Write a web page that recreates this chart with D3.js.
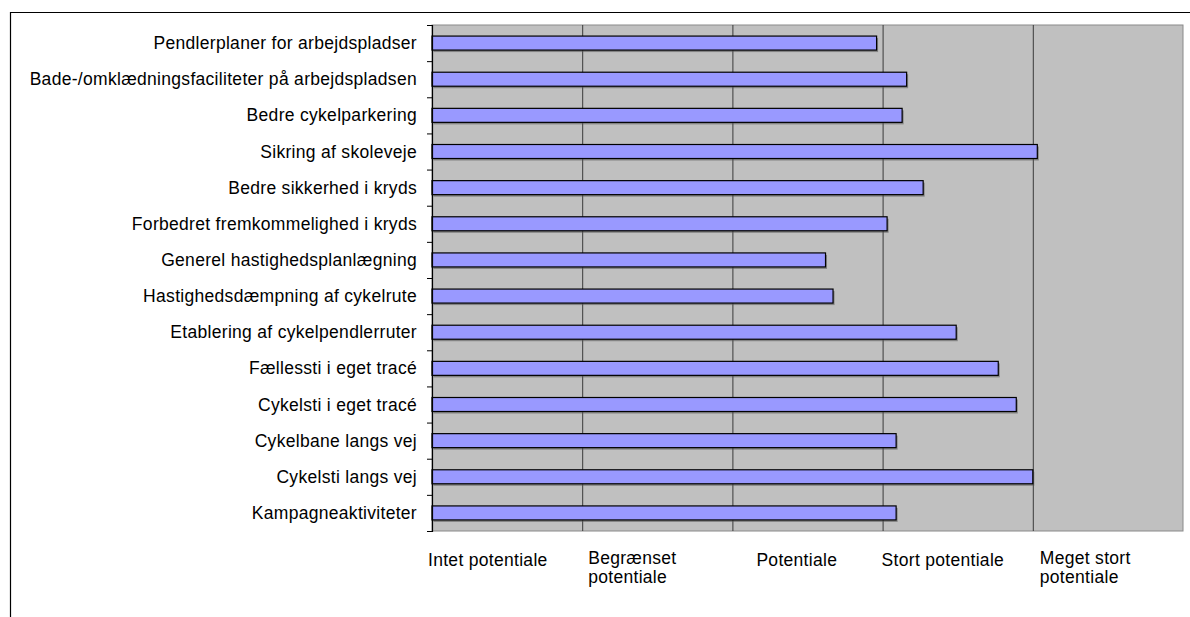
<!DOCTYPE html>
<html>
<head>
<meta charset="utf-8">
<script src="https://cdn.jsdelivr.net/npm/d3@7/dist/d3.min.js"></script>
<style>
  body { margin: 0; background: #fff; }
  svg text { font-family: "Liberation Sans", Arial, Helvetica, sans-serif; fill: #000; letter-spacing: 0.3px; }
</style>
</head>
<body>
<svg id="chart" width="1190" height="617"></svg>
<script>
// Measures, listed top to bottom
const categories = [
  "Pendlerplaner for arbejdspladser",
  "Bade-/omklædningsfaciliteter på arbejdspladsen",
  "Bedre cykelparkering",
  "Sikring af skoleveje",
  "Bedre sikkerhed i kryds",
  "Forbedret fremkommelighed i kryds",
  "Generel hastighedsplanlægning",
  "Hastighedsdæmpning af cykelrute",
  "Etablering af cykelpendlerruter",
  "Fællessti i eget tracé",
  "Cykelsti i eget tracé",
  "Cykelbane langs vej",
  "Cykelsti langs vej",
  "Kampagneaktiviteter"
];

// Average assessed potential (0 = intet, 4 = meget stort)
const values = [2.96, 3.16, 3.13, 4.03, 3.27, 3.03, 2.62, 2.67, 3.49, 3.77, 3.89, 3.09, 4.00, 3.09];

// Scale level names, one per gridline 0..4
const levelTicks = [0, 1, 2, 3, 4];
const levelLabels = ["Intet potentiale", "Begrænset potentiale", "Potentiale", "Stort potentiale", "Meget stort potentiale"];

const svg = d3.select("#chart");
const plot = { left: 432, right: 1183, top: 25, bottom: 531 };
const fontSize = 17.5;

// Outer frame (runs off the right and bottom edges)
svg.append("path")
  .attr("d", "M10.5,617 L10.5,12.5 L1190,12.5")
  .attr("fill", "none").attr("stroke", "#000").attr("stroke-width", 1.2);

const x = d3.scaleLinear().domain([0, 5]).range([plot.left, plot.right]);
const y = d3.scaleBand().domain(categories).range([plot.top, plot.bottom]);
const yEdges = d3.scaleLinear().domain([0, categories.length]).range([plot.top, plot.bottom]);

// Plot area background
svg.append("rect")
  .attr("x", plot.left).attr("y", plot.top)
  .attr("width", plot.right - plot.left).attr("height", plot.bottom - plot.top)
  .attr("fill", "#c0c0c0").attr("stroke", "#8a8a8a").attr("stroke-width", 1);

// Vertical gridlines
const grid = svg.append("g")
  .attr("transform", `translate(0,${plot.bottom})`)
  .call(d3.axisBottom(x).tickValues([1, 2, 3, 4]).tickSize(-(plot.bottom - plot.top)).tickFormat(""));
grid.select(".domain").remove();
grid.selectAll(".tick line").attr("stroke", "#3a3a3a").attr("stroke-width", 1);

// Bars with a soft drop shadow
const barH = 14;
const bars = svg.append("g");
bars.selectAll("rect.shadow")
  .data(values)
  .join("rect")
  .attr("class", "shadow")
  .attr("x", plot.left + 1.5)
  .attr("y", (d, i) => y(categories[i]) + y.bandwidth() / 2 - barH / 2 + 2)
  .attr("width", d => x(d) - plot.left)
  .attr("height", barH)
  .attr("fill", "#505050").attr("opacity", 0.55);
bars.selectAll("rect.bar")
  .data(values)
  .join("rect")
  .attr("class", "bar")
  .attr("x", plot.left)
  .attr("y", (d, i) => y(categories[i]) + y.bandwidth() / 2 - barH / 2)
  .attr("width", d => x(d) - plot.left)
  .attr("height", barH)
  .attr("fill", "#9999ff").attr("stroke", "#000").attr("stroke-width", 1.2);

// Category axis: ticks at band edges
const yAxis = svg.append("g")
  .attr("transform", `translate(${plot.left},0)`)
  .call(d3.axisLeft(yEdges).ticks(categories.length).tickSize(5).tickFormat(""));
yAxis.select(".domain").attr("stroke", "#000").attr("stroke-width", 1.2);
yAxis.selectAll(".tick line").attr("stroke", "#000");

// Category labels
svg.append("g").selectAll("text")
  .data(categories)
  .join("text")
  .attr("x", plot.left - 15)
  .attr("y", d => y(d) + y.bandwidth() / 2 + 6)
  .attr("text-anchor", "end")
  .attr("font-size", fontSize)
  .text(d => d);

// Level labels under the plot, wrapped to a fixed width
const labelNudge = [-4, 6, 24, -1, 7];
const wrapWidth = 140;
const lvl = svg.append("g").selectAll("text")
  .data(levelLabels)
  .join("text")
  .attr("x", (d, i) => x(levelTicks[i]) + labelNudge[i])
  .attr("y", 566)
  .attr("font-size", fontSize);
lvl.each(function (d, i) {
  const t = d3.select(this);
  const words = d.split(" ");
  let line = [];
  let ts = t.append("tspan").attr("x", t.attr("x")).attr("dy", 0);
  words.forEach(w => {
    line.push(w);
    ts.text(line.join(" "));
    if (ts.node().getComputedTextLength() > wrapWidth && line.length > 1) {
      line.pop();
      ts.text(line.join(" "));
      line = [w];
      ts = t.append("tspan").attr("x", t.attr("x")).attr("dy", 19).text(w);
    }
  });
  // Multi-line labels start slightly higher
  if (t.selectAll("tspan").size() > 1) t.attr("y", 564);
});
</script>
</body>
</html>
